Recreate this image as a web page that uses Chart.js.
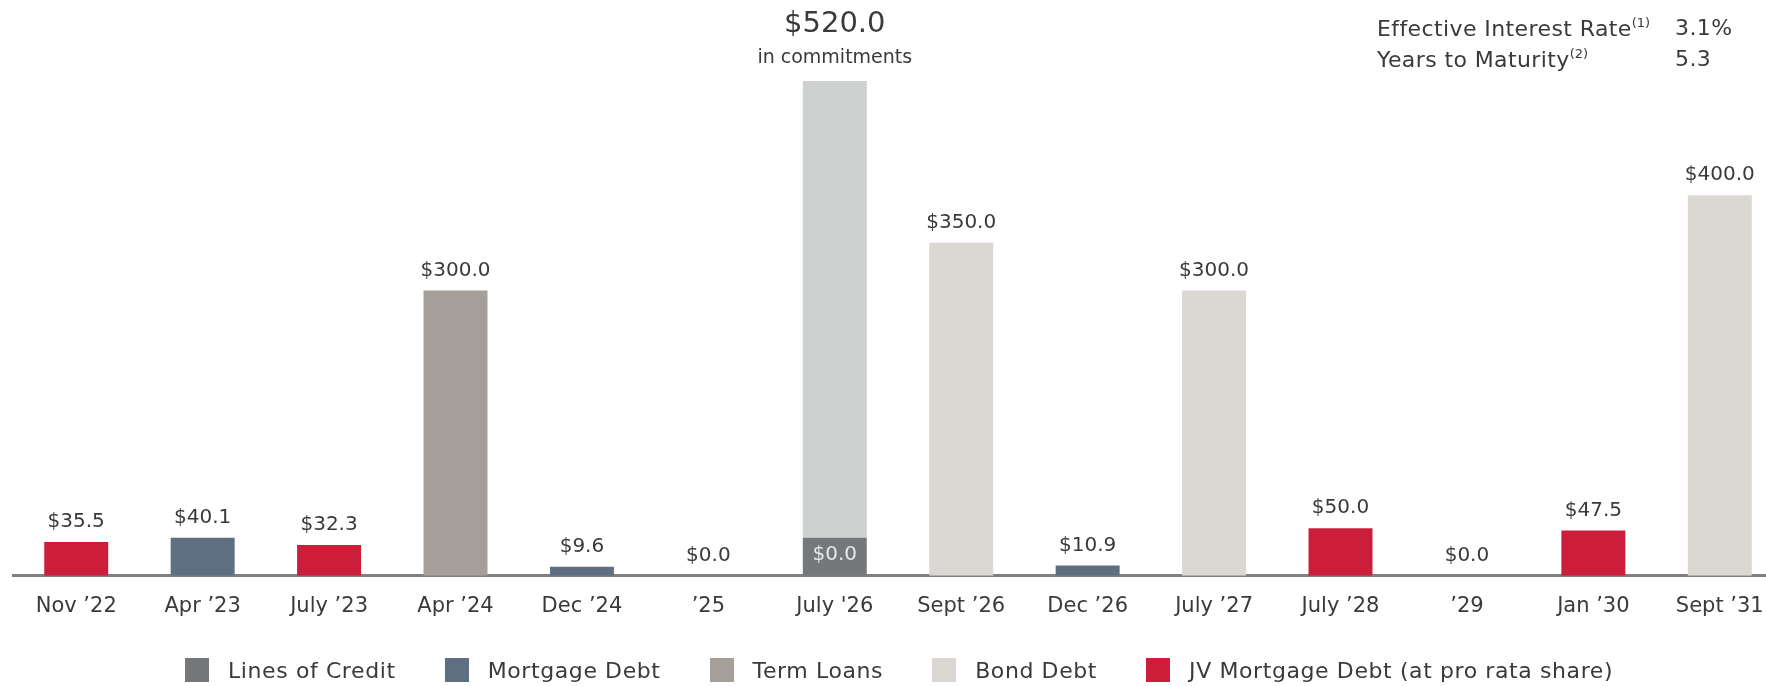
<!DOCTYPE html>
<html>
<head>
<meta charset="utf-8">
<script src="https://cdn.jsdelivr.net/npm/chart.js@4"></script>
<style>
  body { margin: 0; background: #fff; overflow: hidden; font-family: "DejaVu Sans", sans-serif; }
  #wrap { position: relative; width: 1790px; height: 686px; }
  .stat { position: absolute; font-size: 22px; color: #3a3a3a; white-space: nowrap; letter-spacing: 0.4px; }
  .stat sup { font-size: 13px; vertical-align: 9px; letter-spacing: 0; }
  #legend { position: absolute; left: 185px; top: 658px; display: flex; gap: 49px; }
  .item { display: flex; align-items: center; height: 24px; font-size: 22px; color: #3a3a3a; letter-spacing: 0.6px; white-space: nowrap; }
  .item span { display: inline-block; width: 24px; height: 24px; margin-right: 19px; }
</style>
</head>
<body>
<div id="wrap">
  <canvas id="chart"></canvas>
  <div class="stat" style="left:1377px; top:15px;">Effective Interest Rate<sup>(1)</sup></div>
  <div class="stat" style="left:1675px; top:15px;">3.1%</div>
  <div class="stat" style="left:1377px; top:46px;">Years to Maturity<sup>(2)</sup></div>
  <div class="stat" style="left:1675px; top:46px;">5.3</div>
  <div id="legend"></div>
</div>
<script>
// maturities, $ millions
const categories = ["Nov ’22", "Apr ’23", "July ’23", "Apr ’24", "Dec ’24", "’25", "July '26",
                    "Sept ’26", "Dec ’26", "July ’27", "July ’28", "’29", "Jan ’30", "Sept ’31"];
const linesOfCredit = [0, 0, 0, 0, 0, 0, 40, 0, 0, 0, 0, 0, 0, 0];
const mortgageDebt  = [0, 40.1, 0, 0, 9.6, 0, 0, 0, 10.9, 0, 0, 0, 0, 0];
const termLoans     = [0, 0, 0, 300, 0, 0, 0, 0, 0, 0, 0, 0, 0, 0];
const bondDebt      = [0, 0, 0, 0, 0, 0, 0, 350, 0, 300, 0, 0, 0, 400];
const jvMortgage    = [35.5, 0, 32.3, 0, 0, 0, 0, 0, 0, 0, 50, 0, 47.5, 0];
const commitments   = [0, 0, 0, 0, 0, 0, 480, 0, 0, 0, 0, 0, 0, 0];
const valueLabels   = ["$35.5", "$40.1", "$32.3", "$300.0", "$9.6", "$0.0", "$0.0",
                       "$350.0", "$10.9", "$300.0", "$50.0", "$0.0", "$47.5", "$400.0"];
const commitmentTotal = "$520.0";
const commitmentNote = "in commitments";

const FONT = '"DejaVu Sans", sans-serif';
const TEXT = '#3a3a3a';

const labelPlugin = {
  id: 'labels',
  afterDatasetsDraw(chart) {
    const ctx = chart.ctx;
    const y = chart.scales.y;
    const base = y.getPixelForValue(0);
    ctx.save();
    ctx.textAlign = 'center';
    ctx.textBaseline = 'middle';
    categories.forEach((c, i) => {
      const x = chart.getDatasetMeta(0).data[i].x;
      if (commitments[i] > 0) {
        // lines of credit value sits inside the dark segment
        const seg = chart.getDatasetMeta(0).data[i];
        ctx.fillStyle = '#e6e6e6';
        ctx.font = '20px ' + FONT;
        ctx.fillText(valueLabels[i], x, (seg.y + base) / 2 - 2);
        const top = y.getPixelForValue(linesOfCredit[i] + commitments[i]);
        ctx.fillStyle = TEXT;
        ctx.font = '19px ' + FONT;
        ctx.fillText(commitmentNote, x, top - 23);
        ctx.font = '29px ' + FONT;
        ctx.fillText(commitmentTotal, x, top - 57);
        return;
      }
      const total = linesOfCredit[i] + mortgageDebt[i] + termLoans[i] + bondDebt[i] + jvMortgage[i];
      ctx.fillStyle = TEXT;
      ctx.font = '20px ' + FONT;
      ctx.fillText(valueLabels[i], x, y.getPixelForValue(total) - 20);
    });
    ctx.restore();
  }
};

const chart = new Chart(document.getElementById('chart'), {
  type: 'bar',
  data: {
    labels: categories,
    datasets: [
      { label: 'Lines of Credit', data: linesOfCredit, backgroundColor: '#75787b' },
      { label: 'Mortgage Debt', data: mortgageDebt, backgroundColor: '#5f6f82' },
      { label: 'Term Loans', data: termLoans, backgroundColor: '#a59f9a' },
      { label: 'Bond Debt', data: bondDebt, backgroundColor: '#dbd8d3' },
      { label: 'JV Mortgage Debt (at pro rata share)', data: jvMortgage, backgroundColor: '#cc1e3b' },
      { label: 'Commitments', data: commitments, backgroundColor: '#cfd1d1' }
    ]
  },
  options: {
    responsive: true,
    maintainAspectRatio: false,
    animation: false,
    layout: { padding: { left: 13, right: 7, top: 5, bottom: 57 } },
    datasets: { bar: { categoryPercentage: 1, barPercentage: 0.506 } },
    scales: {
      x: {
        stacked: true,
        grid: { display: false },
        border: { color: '#808080', width: 3 },
        ticks: { color: TEXT, font: { family: FONT, size: 21 }, padding: 10 }
      },
      y: { stacked: true, display: false, min: 0, max: 600 }
    },
    plugins: {
      tooltip: { enabled: false },
      legend: { display: false }
    }
  },
  plugins: [labelPlugin]
});

// legend built from the datasets (commitments shown only as a label)
document.getElementById('legend').innerHTML = chart.data.datasets
  .filter(d => d.label !== 'Commitments')
  .map(d => `<div class="item"><span style="background:${d.backgroundColor}"></span>${d.label}</div>`)
  .join('');
</script>
</body>
</html>
